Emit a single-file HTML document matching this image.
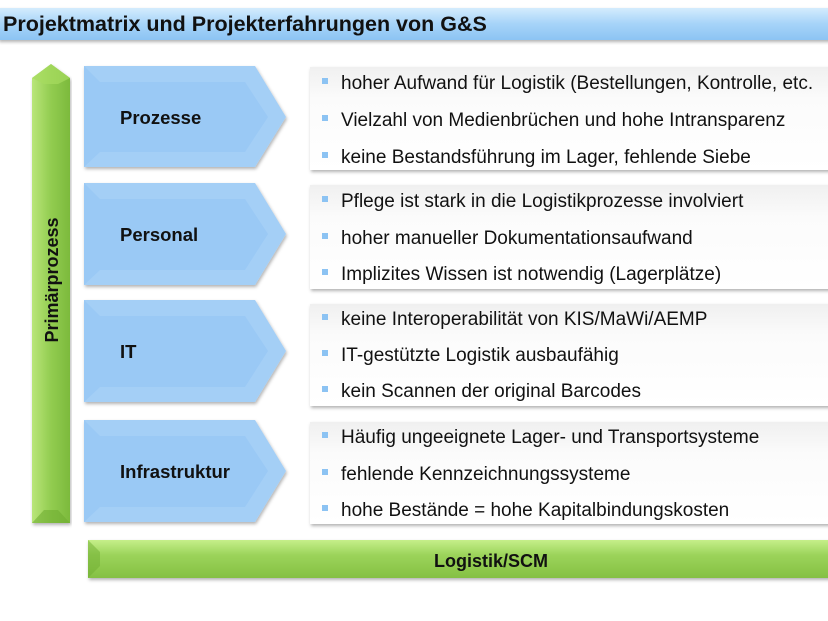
<!DOCTYPE html>
<html><head><meta charset="utf-8"><style>
body{margin:0;width:828px;height:621px;background:#fff;overflow:hidden}
svg{display:block}
text{font-family:"Liberation Sans","DejaVu Sans",sans-serif}
</style></head><body>
<svg width="828" height="621" viewBox="0 0 828 621">
<defs>
<linearGradient id="tb" x1="0" y1="0" x2="0" y2="1"><stop offset="0" stop-color="#d4ecfd"/><stop offset="0.5" stop-color="#a6d3f8"/><stop offset="1" stop-color="#8cc3f3"/></linearGradient>
<linearGradient id="gv" x1="0" y1="0" x2="1" y2="0"><stop offset="0" stop-color="#b9e67a"/><stop offset="0.5" stop-color="#92cc50"/><stop offset="1" stop-color="#7cba3c"/></linearGradient>
<linearGradient id="gh" x1="0" y1="0" x2="0" y2="1"><stop offset="0" stop-color="#c6ef8a"/><stop offset="0.4" stop-color="#9bd35a"/><stop offset="1" stop-color="#84c043"/></linearGradient>
<linearGradient id="bx" x1="0" y1="0" x2="0" y2="1"><stop offset="0" stop-color="#f0f0f0"/><stop offset="0.3" stop-color="#fbfbfb"/><stop offset="1" stop-color="#ffffff"/></linearGradient>
<filter id="sh" x="-5%" y="-5%" width="110%" height="120%"><feDropShadow dx="1" dy="2" stdDeviation="1.5" flood-color="#000" flood-opacity="0.3"/></filter>
</defs>
<rect x="-2" y="8" width="832" height="32" fill="url(#tb)" filter="url(#sh)"/>
<text x="3" y="31" font-size="21.5" font-weight="bold" fill="#111">Projektmatrix und Projekterfahrungen von G&amp;S</text>
<g filter="url(#sh)">
<polygon points="32,78 51,64 70,78 70,523 32,523" fill="url(#gv)"/>
</g>
<polygon points="32,78 51,64 70,78 58,84 44,84" fill="#a6dc60" opacity="0.7"/>
<polygon points="32,523 44,510 58,510 70,523" fill="#6fae32" opacity="0.6"/>
<text transform="translate(58,280) rotate(-90)" text-anchor="middle" font-size="18" font-weight="bold" fill="#111">Primärprozess</text>
<g filter="url(#sh)"><rect x="88" y="540" width="742" height="38" fill="url(#gh)"/></g>
<polygon points="88,540 100,552 100,566 88,578" fill="#6fae32" opacity="0.5"/>
<text x="491" y="567" text-anchor="middle" font-size="18" font-weight="bold" fill="#111">Logistik/SCM</text>
<g font-size="19" fill="#111">
<g>
<polygon points="84,66 255,66 286,117 255,167 84,167" fill="#9ac9f5" filter="url(#sh)"/>
<polygon points="84,66 255,66 286,117 255,167 84,167 100,152 245,152 268,117 245,82 100,82" fill="#b8dbf9" opacity="0.35"/>
<text x="120" y="124" font-weight="bold" font-size="18.5">Prozesse</text>
<rect x="310" y="67" width="530" height="103" fill="url(#bx)" filter="url(#sh)"/>
<rect x="322" y="78" width="6" height="6" fill="#8cc3f3"/><text x="341" y="89">hoher Aufwand für Logistik (Bestellungen, Kontrolle, etc.</text>
<rect x="322" y="115" width="6" height="6" fill="#8cc3f3"/><text x="341" y="126">Vielzahl von Medienbrüchen und hohe Intransparenz</text>
<rect x="322" y="152" width="6" height="6" fill="#8cc3f3"/><text x="341" y="163">keine Bestandsführung im Lager, fehlende Siebe</text>
</g>
<g>
<polygon points="84,183 255,183 286,234 255,285 84,285" fill="#9ac9f5" filter="url(#sh)"/>
<polygon points="84,183 255,183 286,234 255,285 84,285 100,270 245,270 268,234 245,199 100,199" fill="#b8dbf9" opacity="0.35"/>
<text x="120" y="241" font-weight="bold" font-size="18.5">Personal</text>
<rect x="310" y="185" width="530" height="104" fill="url(#bx)" filter="url(#sh)"/>
<rect x="322" y="196" width="6" height="6" fill="#8cc3f3"/><text x="341" y="207">Pflege ist stark in die Logistikprozesse involviert</text>
<rect x="322" y="233" width="6" height="6" fill="#8cc3f3"/><text x="341" y="244">hoher manueller Dokumentationsaufwand</text>
<rect x="322" y="269" width="6" height="6" fill="#8cc3f3"/><text x="341" y="280">Implizites Wissen ist notwendig (Lagerplätze)</text>
</g>
<g>
<polygon points="84,300 255,300 286,351 255,402 84,402" fill="#9ac9f5" filter="url(#sh)"/>
<polygon points="84,300 255,300 286,351 255,402 84,402 100,387 245,387 268,351 245,316 100,316" fill="#b8dbf9" opacity="0.35"/>
<text x="120" y="358" font-weight="bold" font-size="18.5">IT</text>
<rect x="310" y="304" width="530" height="102" fill="url(#bx)" filter="url(#sh)"/>
<rect x="322" y="314" width="6" height="6" fill="#8cc3f3"/><text x="341" y="325">keine Interoperabilität von KIS/MaWi/AEMP</text>
<rect x="322" y="350" width="6" height="6" fill="#8cc3f3"/><text x="341" y="361">IT-gestützte Logistik ausbaufähig</text>
<rect x="322" y="386" width="6" height="6" fill="#8cc3f3"/><text x="341" y="397">kein Scannen der original Barcodes</text>
</g>
<g>
<polygon points="84,420 255,420 286,471 255,522 84,522" fill="#9ac9f5" filter="url(#sh)"/>
<polygon points="84,420 255,420 286,471 255,522 84,522 100,507 245,507 268,471 245,436 100,436" fill="#b8dbf9" opacity="0.35"/>
<text x="120" y="478" font-weight="bold" font-size="18.5">Infrastruktur</text>
<rect x="310" y="422" width="530" height="102" fill="url(#bx)" filter="url(#sh)"/>
<rect x="322" y="432" width="6" height="6" fill="#8cc3f3"/><text x="341" y="443">Häufig ungeeignete Lager- und Transportsysteme</text>
<rect x="322" y="469" width="6" height="6" fill="#8cc3f3"/><text x="341" y="480">fehlende Kennzeichnungssysteme</text>
<rect x="322" y="505" width="6" height="6" fill="#8cc3f3"/><text x="341" y="516">hohe Bestände = hohe Kapitalbindungskosten</text>
</g>
</g>
</svg>
</body></html>
